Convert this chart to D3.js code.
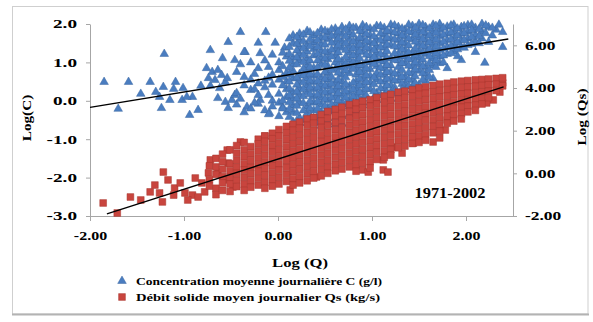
<!DOCTYPE html>
<html><head><meta charset="utf-8">
<script src="https://cdn.jsdelivr.net/npm/d3@7"></script>
<style>
html,body{margin:0;padding:0;background:#fff;}
svg{display:block;}
text{font-family:"Liberation Serif","Times New Roman",serif;font-weight:bold;fill:#000;}
</style></head><body>
<svg id="chart" width="593" height="322"></svg>
<script>
// Axis ticks
const xTicks = [-2, -1, 0, 1, 2];
const cTicks = [-3, -2, -1, 0, 1, 2];
const qsTicks = [-2, 0, 2, 4, 6];

// Daily mean concentration, isolated days: [log Q, log C]
const concSparse = [
  [-1.85,0.49],[-1.70,-0.21],[-1.59,0.49],[-1.46,0.18],[-1.36,0.49],[-1.30,0.23],[-1.21,1.22],
  [-1.22,0.36],[-1.24,-0.19],[-1.09,0.49],[-1.11,0.31],[-1.02,0.02],[-0.94,-0.37],[-0.85,-0.24],
  [-0.91,0.10],[-0.82,0.39],[-0.72,1.32],[-0.53,1.53],[-0.59,1.11],[-0.40,1.79],[-0.13,1.79],
  [-0.35,1.27],[-0.46,1.06],[-0.21,1.51],[-0.03,1.51],[0.07,1.38],[-0.19,1.24],
  [-0.76,0.85],[-0.70,0.75],[-0.64,0.80],[-0.60,0.67],[-0.74,0.59],[-0.67,0.54],[-0.56,0.49],
  [-0.72,0.39],[-0.62,0.33],[-0.54,0.59],[-0.64,0.07],[-0.56,-0.03],[-0.49,0.02],[-0.53,-0.19],
  [-0.46,0.15],[-1.26,0.10],[-1.15,0.02],[-1.01,0.33],[-0.97,0.10],[-0.33,-0.16],[-0.19,0.02],
  [-0.09,-0.32],[0.05,-0.16],[0.13,0.10]
];
// Daily mean concentration, dense part of the cloud: [log Q, log C values...]
const concColumns = [
  [-0.44, 0.75, 0.20, -0.10],
  [-0.36, 1.27, 0.62, 0.40, -0.30],
  [-0.29, 1.00, 0.55, 0.28, -0.20],
  [-0.21, 0.85, 0.45, 0.15, -0.08],
  [-0.14, 1.05, 0.52, 0.35, -0.25],
  [-0.06, 1.20, 0.68, 0.42, 0.00, -0.15],
  [0.01, 1.00, 0.80, 0.55, 0.18, -0.05, -0.40],
  [0.09, 1.15, 0.72, 0.50, 0.30, 0.10, -0.30],
  [0.16, 1.70, 1.50, 1.12, 0.95, 0.78, 0.58, 0.22, 0.05, -0.12, -0.30, -0.55],
  [0.23, 1.75, 1.58, 1.40, 1.22, 1.05, 0.70, 0.50, 0.32, 0.15, -0.05, -0.45],
  [0.31, 1.82, 1.45, 1.28, 1.10, 0.92, 0.75, 0.58, 0.40, 0.22, -0.15, -0.32, -0.58],
  [0.38, 1.70, 1.52, 1.35, 1.18, 0.85, 0.65, 0.48, 0.30, 0.12, -0.05, -0.25, -0.45],
  [0.46, 1.85, 1.65, 1.48, 1.30, 1.12, 0.95, 0.60, 0.42, 0.25, 0.08, -0.10, -0.30, -0.50, -0.65],
  [0.53, 1.78, 1.60, 1.25, 1.08, 0.90, 0.72, 0.55, 0.38, 0.20, 0.02, -0.18, -0.55],
  [0.61, 1.88, 1.70, 1.52, 1.35, 1.18, 1.00, 0.82, 0.48, 0.30, 0.12, -0.08, -0.25, -0.45, -0.62],
  [0.68, 1.92, 1.74, 1.55, 1.38, 1.03, 0.86, 0.68, 0.50, 0.33, 0.15, -0.03, -0.40, -0.60],
  [0.76, 1.95, 1.78, 1.60, 1.42, 1.25, 1.07, 0.90, 0.72, 0.38, 0.20, 0.02, -0.15, -0.35],
  [0.83, 1.90, 1.55, 1.38, 1.20, 1.02, 0.85, 0.68, 0.50, 0.32, 0.15, -0.05, -0.25],
  [0.90, 1.97, 1.80, 1.62, 1.45, 1.28, 0.92, 0.75, 0.58, 0.40, 0.22, 0.05, -0.12],
  [0.98, 1.88, 1.70, 1.52, 1.35, 1.18, 1.00, 0.82, 0.65, 0.48, 0.30, -0.05],
  [1.05, 1.95, 1.60, 1.42, 1.25, 1.08, 0.90, 0.72, 0.55, 0.20, 0.02],
  [1.13, 1.90, 1.72, 1.55, 1.38, 1.20, 1.02, 0.85, 0.68, 0.50, 0.32, 0.15],
  [1.20, 1.98, 1.80, 1.62, 1.45, 1.10, 0.92, 0.75, 0.58, 0.40, 0.22, 0.05],
  [1.28, 1.92, 1.75, 1.58, 1.40, 1.22, 1.05, 0.88, 0.70, 0.52, 0.18],
  [1.35, 1.85, 1.68, 1.50, 1.32, 1.15, 0.98, 0.62, 0.45, 0.28],
  [1.43, 1.95, 1.78, 1.60, 1.25, 1.08, 0.90, 0.72, 0.55, 0.38],
  [1.50, 2.00, 1.82, 1.65, 1.48, 1.30, 1.12, 0.95, 0.78, 0.42],
  [1.57, 1.92, 1.75, 1.58, 1.40, 1.22, 0.88, 0.70, 0.52],
  [1.65, 1.98, 1.80, 1.62, 1.45, 1.28, 1.10, 0.92, 0.58],
  [1.72, 2.00, 1.85, 1.68, 1.50, 1.32, 1.15, 0.98],
  [1.80, 1.93, 1.75, 1.58, 1.40, 1.22, 0.85],
  [1.87, 1.98, 1.80, 1.62, 1.45, 1.28],
  [1.95, 1.92, 1.75, 1.58, 1.40, 1.06],
  [2.02, 1.97, 1.80, 1.62, 1.45],
  [2.10, 1.90, 1.72, 1.55, 1.27],
  [2.17, 2.00, 1.80, 1.62],
  [2.20, 0.99],
  [2.24, 1.92, 1.53],
  [2.32, 1.85],
  [2.39, 1.79, 1.40]
];
// Daily mean concentration, dense cloud between the columns above
const concColumnsMid = [
  [-0.40, 0.95, 0.05],
  [-0.25, 0.70, 0.30, -0.05],
  [-0.10, 0.88, 0.60, 0.15, -0.35],
  [0.05, 1.25, 0.90, 0.62, 0.40, 0.00, -0.20],
  [0.12, 1.62, 1.40, 1.22, 1.04, 0.86, 0.68, 0.50, 0.32, 0.14, -0.04, -0.22, -0.42],
  [0.20, 1.66, 1.48, 1.31, 1.13, 0.95, 0.60, 0.42, 0.24, 0.06, -0.13, -0.32, -0.52],
  [0.27, 1.72, 1.55, 1.37, 1.19, 1.01, 0.83, 0.66, 0.48, 0.30, 0.12, -0.06, -0.25, -0.50],
  [0.34, 1.78, 1.60, 1.42, 1.05, 0.88, 0.70, 0.52, 0.35, 0.17, -0.01, -0.20, -0.38],
  [0.42, 1.76, 1.58, 1.40, 1.22, 1.05, 0.87, 0.69, 0.51, 0.34, 0.16, -0.02, -0.20, -0.40, -0.58],
  [0.50, 1.82, 1.64, 1.46, 1.28, 1.10, 0.93, 0.75, 0.57, 0.39, 0.22, 0.04, -0.14, -0.32],
  [0.57, 1.86, 1.69, 1.51, 1.33, 1.15, 0.80, 0.62, 0.44, 0.26, 0.08, -0.10, -0.28],
  [0.64, 1.80, 1.62, 1.44, 1.26, 1.09, 0.91, 0.73, 0.55, 0.38, 0.20, 0.02, -0.16],
  [0.72, 1.86, 1.68, 1.50, 1.32, 1.14, 0.96, 0.79, 0.61, 0.43, 0.25, 0.08, -0.10],
  [0.80, 1.90, 1.72, 1.54, 1.36, 1.18, 1.00, 0.83, 0.47, 0.29, 0.11, -0.06],
  [0.87, 1.82, 1.64, 1.46, 1.28, 1.11, 0.93, 0.75, 0.57, 0.40, 0.22, 0.04],
  [0.94, 1.92, 1.74, 1.56, 1.38, 1.20, 1.02, 0.84, 0.66, 0.49, 0.31, 0.13],
  [1.02, 1.86, 1.68, 1.50, 1.32, 1.14, 0.96, 0.61, 0.43, 0.25, 0.08],
  [1.09, 1.94, 1.76, 1.58, 1.40, 1.22, 1.04, 0.86, 0.68, 0.50, 0.33, 0.15],
  [1.16, 1.82, 1.64, 1.46, 1.29, 1.11, 0.93, 0.75, 0.57, 0.40, 0.22],
  [1.24, 1.96, 1.78, 1.60, 1.42, 1.24, 1.06, 0.71, 0.53, 0.35, 0.25],
  [1.32, 1.88, 1.70, 1.52, 1.34, 1.16, 0.98, 0.80, 0.62, 0.44, 0.30],
  [1.39, 1.98, 1.80, 1.62, 1.44, 1.26, 1.08, 0.91, 0.73, 0.55, 0.38],
  [1.46, 1.90, 1.72, 1.54, 1.36, 1.18, 1.00, 0.82, 0.64, 0.46],
  [1.54, 1.97, 1.79, 1.61, 1.43, 1.25, 1.07, 0.90, 0.72, 0.55],
  [1.61, 1.88, 1.70, 1.52, 1.34, 1.16, 0.98, 0.80, 0.62],
  [1.68, 1.95, 1.77, 1.59, 1.41, 1.23, 1.05, 0.88],
  [1.76, 1.90, 1.72, 1.54, 1.36, 1.18, 1.00],
  [1.84, 1.96, 1.78, 1.60, 1.42, 1.24],
  [1.91, 1.88, 1.70, 1.52, 1.34, 1.16],
  [1.98, 1.94, 1.76, 1.58, 1.38],
  [2.06, 1.98, 1.84, 1.66, 1.48],
  [2.14, 1.86, 1.68, 1.50],
  [2.21, 1.96, 1.76],
  [2.28, 1.90, 1.70],
  [2.35, 1.98]
];

// Daily mean sediment discharge, isolated days: [log Q, log Qs]
const qsSparse = [
  [-1.86,-1.39],[-1.71,-1.86],[-1.57,-1.11],[-1.46,-1.25],[-1.36,-0.87],[-1.22,0.06],[-1.26,-0.92],
  [-1.23,-1.34],[-1.10,-0.69],[-1.11,-1.02],[-0.99,-0.92],[-0.91,-1.02],[-0.85,-1.11],[-0.81,-0.45],
  [-0.72,0.63],[-0.74,0.02],[-0.64,0.06],[-0.54,1.09],[-0.53,0.48],[-0.54,-0.31],[-0.48,-0.64],
  [-0.40,1.47],[-0.14,1.75],[0.13,-0.78],[0.41,-0.17],[-1.31,-0.55],[-1.17,-0.31],[-1.04,-0.45],
  [-0.88,-0.22],[-0.96,-1.25],[-0.78,-0.87],[0.90,0.16],[0.96,0.06],[1.12,0.16],[1.17,0.06],
  [1.12,0.63],[1.32,0.95],[1.21,1.23],[1.44,1.42],[1.65,1.47],[1.72,1.66],[1.80,2.50],[1.78,2.03],
  [2.29,3.44],[2.22,3.30],[2.39,4.24],[2.36,3.81]
];
// Daily mean sediment discharge, dense part of the cloud: [log Q, log Qs values...]
const qsColumns = [
  [-0.73, 0.35, -0.30, -0.60],
  [-0.66, 0.70, 0.30, -0.05, -0.70, -1.00],
  [-0.59, 0.90, 0.55, 0.20, -0.15, -0.45, -0.80],
  [-0.51, 1.10, 0.45, 0.12, -0.20, -0.50, -0.85],
  [-0.44, 1.30, 0.95, 0.62, 0.30, 0.00, -0.32, -0.62],
  [-0.36, 1.45, 1.10, 0.78, 0.45, 0.15, -0.18, -0.50, -0.80],
  [-0.29, 1.25, 0.92, 0.60, 0.28, -0.02, -0.35, -0.65],
  [-0.21, 1.60, 1.38, 1.05, 0.72, 0.40, 0.10, -0.22, -0.55],
  [-0.14, 1.75, 1.50, 1.18, 0.85, 0.52, 0.22, -0.10, -0.42, -0.70],
  [-0.06, 1.88, 1.62, 1.30, 0.98, 0.65, 0.35, 0.02, -0.30, -0.60],
  [0.01, 2.05, 1.75, 1.42, 1.10, 0.78, 0.45, 0.15, -0.18, -0.50],
  [0.09, 2.20, 1.90, 1.58, 1.25, 0.92, 0.60, 0.28, -0.05, -0.38],
  [0.16, 2.30, 2.02, 1.70, 1.38, 1.05, 0.72, 0.40, 0.08, -0.25, -0.55],
  [0.23, 2.40, 2.12, 1.80, 1.48, 1.15, 0.82, 0.50, 0.18, -0.15, -0.45],
  [0.31, 2.55, 2.25, 1.92, 1.60, 1.28, 0.95, 0.62, 0.30, -0.02, -0.35],
  [0.38, 2.62, 2.35, 2.02, 1.70, 1.38, 1.05, 0.72, 0.40, 0.08, -0.22],
  [0.46, 2.75, 2.45, 2.15, 1.82, 1.50, 1.18, 0.85, 0.52, 0.20, -0.12],
  [0.53, 2.90, 2.58, 2.25, 1.92, 1.60, 1.28, 0.95, 0.62, 0.30, 0.00],
  [0.61, 3.00, 2.70, 2.38, 2.05, 1.72, 1.40, 1.08, 0.75, 0.42, 0.12],
  [0.68, 3.10, 2.80, 2.48, 2.15, 1.82, 1.50, 1.18, 0.85, 0.52, 0.20],
  [0.76, 3.22, 2.90, 2.58, 2.25, 1.92, 1.60, 1.28, 0.95, 0.62, 0.30],
  [0.83, 3.30, 3.00, 2.68, 2.35, 2.02, 1.70, 1.38, 1.05, 0.72, 0.40, 0.10],
  [0.90, 3.38, 3.08, 2.75, 2.42, 2.10, 1.78, 1.45, 1.12, 0.80, 0.48],
  [0.98, 3.45, 3.15, 2.82, 2.50, 2.18, 1.85, 1.52, 1.20, 0.88, 0.55, 0.25],
  [1.05, 3.55, 3.25, 2.92, 2.60, 2.28, 1.95, 1.62, 1.30, 0.98, 0.65],
  [1.13, 3.62, 3.32, 3.00, 2.68, 2.35, 2.02, 1.70, 1.38, 1.05, 0.75],
  [1.20, 3.70, 3.40, 3.08, 2.75, 2.42, 2.10, 1.78, 1.45, 1.12, 0.85],
  [1.28, 3.80, 3.48, 3.15, 2.82, 2.50, 2.18, 1.85, 1.52, 1.20],
  [1.35, 3.85, 3.55, 3.22, 2.90, 2.58, 2.25, 1.92, 1.60, 1.28],
  [1.43, 3.92, 3.62, 3.30, 2.98, 2.65, 2.32, 2.00, 1.68, 1.40],
  [1.50, 4.00, 3.70, 3.38, 3.05, 2.72, 2.40, 2.08, 1.75, 1.45],
  [1.57, 4.05, 3.75, 3.45, 3.12, 2.80, 2.48, 2.15, 1.82, 1.55],
  [1.65, 4.12, 3.82, 3.50, 3.18, 2.85, 2.52, 2.20, 1.90],
  [1.72, 4.18, 3.88, 3.58, 3.25, 2.92, 2.60, 2.28, 1.98],
  [1.80, 4.22, 3.92, 3.62, 3.30, 2.98, 2.68, 2.35],
  [1.87, 4.28, 3.98, 3.68, 3.35, 3.05, 2.75, 2.45],
  [1.95, 4.32, 4.02, 3.72, 3.40, 3.10, 2.80, 2.55],
  [2.02, 4.35, 4.05, 3.75, 3.45, 3.15, 2.88],
  [2.10, 4.38, 4.08, 3.78, 3.48, 3.20, 2.95],
  [2.17, 4.40, 4.12, 3.82, 3.52, 3.25],
  [2.24, 4.42, 4.15, 3.85, 3.55],
  [2.32, 4.45, 4.18, 3.88],
  [2.39, 4.48, 4.10]
];

// Fitted power-law trends (end points in log space)
const concTrend = [[-2.00, -0.17], [2.45, 1.61]];
const qsTrend = [[-1.82, -1.90], [2.40, 4.05]];

const periodLabel = "1971-2002";
const legendLabels = ["Concentration moyenne journalière C (g/l)", "Débit solide moyen journalier Qs (kg/s)"];
const axisTitles = { x: "Log (Q)", left: "Log(C)", right: "Log (Qs)" };

const concColor = "#4a7dc0", concEdge = "#3d68a3";
const qsColor = "#c8453e", qsEdge = "#a8362f";

const svg = d3.select("#chart");

// Outer frame
svg.append("rect").attr("x", 12.5).attr("y", 6.5).attr("width", 575.5).attr("height", 307.5)
  .attr("fill", "#fff").attr("stroke", "#cfcfcf");
svg.append("line").attr("x1", 12).attr("x2", 589).attr("y1", 314.5).attr("y2", 314.5)
  .attr("stroke", "#b3b3b3").attr("stroke-width", 2);

const plotLeft = 90, plotRight = 513, plotTop = 24, plotBottom = 216;
const x = d3.scaleLinear().domain([-2, 2.5]).range([plotLeft, plotRight]);
const yC = d3.scaleLinear().domain([-3, 2]).range([plotBottom, plotTop]);
const yQs = d3.scaleLinear().domain([-2, 7]).range([plotBottom, plotTop]);

// plain hyphen for negative numbers
const locale = d3.formatLocale({ decimal: ".", thousands: ",", grouping: [3], currency: ["", ""], minus: "-" });

// stretch text horizontally to the width used by the chart's typeface
function stretch(sel, k) {
  sel.each(function () {
    const w = this.getComputedTextLength();
    this.setAttribute("textLength", (w * k).toFixed(1));
    this.setAttribute("lengthAdjust", "spacingAndGlyphs");
  });
}

function styleAxis(g) {
  g.attr("font-family", null).attr("font-size", null);
  g.select(".domain").attr("stroke", "#a6a6a6");
  g.selectAll(".tick line").attr("stroke", "#a6a6a6");
  g.selectAll(".tick text").attr("font-size", 12).attr("fill", "#000");
}

const gx = svg.append("g").attr("transform", `translate(0,${plotBottom})`)
  .call(d3.axisBottom(x).tickValues(xTicks).tickFormat(locale.format(".2f")).tickSize(5).tickPadding(10).tickSizeOuter(0));
styleAxis(gx);
stretch(gx.selectAll(".tick text"), 1.33);

const gl = svg.append("g").attr("transform", `translate(${plotLeft},0)`)
  .call(d3.axisLeft(yC).tickValues(cTicks).tickFormat(locale.format(".1f")).tickSize(4).tickPadding(9).tickSizeOuter(0));
styleAxis(gl);
stretch(gl.selectAll(".tick text"), 1.6);

const gr = svg.append("g").attr("transform", `translate(${plotRight},0)`)
  .call(d3.axisRight(yQs).tickValues(qsTicks).tickFormat(locale.format(".2f")).tickSize(4).tickPadding(8).tickSizeOuter(0));
styleAxis(gr);
stretch(gr.selectAll(".tick text"), 1.45);

// Expand column data into points
const expand = cols => cols.flatMap(([q, ...vs]) => vs.map(v => [q, v]));
const concPts = concSparse.concat(expand(concColumns), expand(concColumnsMid));
const qsPts = qsSparse.concat(expand(qsColumns));

const tri = d3.symbol().type(d3.symbolTriangle).size(32);
const sq = d3.symbol().type(d3.symbolSquare).size(46);

svg.append("g").selectAll("path").data(concPts).join("path")
  .attr("d", tri)
  .attr("transform", d => `translate(${x(d[0])},${yC(d[1])})`)
  .attr("fill", concColor).attr("stroke", concEdge).attr("stroke-width", 0.5);

svg.append("g").selectAll("path").data(qsPts).join("path")
  .attr("d", sq)
  .attr("transform", d => `translate(${x(d[0])},${yQs(d[1])})`)
  .attr("fill", qsColor).attr("stroke", qsEdge).attr("stroke-width", 0.5);

// Trend lines
svg.append("path").datum(concTrend)
  .attr("d", d3.line().x(d => x(d[0])).y(d => yC(d[1])))
  .attr("stroke", "#000").attr("stroke-width", 1.4).attr("fill", "none");
svg.append("path").datum(qsTrend)
  .attr("d", d3.line().x(d => x(d[0])).y(d => yQs(d[1])))
  .attr("stroke", "#000").attr("stroke-width", 1.4).attr("fill", "none");

// Period label
const pl = svg.append("text").attr("x", 450).attr("y", 198).attr("text-anchor", "middle")
  .attr("font-size", 14).text(periodLabel);
stretch(pl, 1.17);

// Axis titles
const tx = svg.append("text").attr("x", 300).attr("y", 267).attr("text-anchor", "middle")
  .attr("font-size", 13).text(axisTitles.x);
stretch(tx, 1.28);
const tl = svg.append("text").attr("transform", "translate(31,118) rotate(-90)")
  .attr("text-anchor", "middle").attr("font-size", 13).text(axisTitles.left);
stretch(tl, 1.17);
const tr = svg.append("text").attr("transform", "translate(586,117) rotate(-90)")
  .attr("text-anchor", "middle").attr("font-size", 13).text(axisTitles.right);
stretch(tr, 1.17);

// Legend
const lg = svg.append("g");
lg.append("path").attr("d", tri).attr("transform", "translate(122,281)")
  .attr("fill", concColor).attr("stroke", concEdge).attr("stroke-width", 0.5);
lg.append("path").attr("d", sq).attr("transform", "translate(122,297)")
  .attr("fill", qsColor).attr("stroke", qsEdge).attr("stroke-width", 0.5);
const l1 = lg.append("text").attr("x", 136).attr("y", 285).attr("font-size", 11).text(legendLabels[0]);
const l2 = lg.append("text").attr("x", 136).attr("y", 301).attr("font-size", 11).text(legendLabels[1]);
l1.attr("textLength", 246).attr("lengthAdjust", "spacingAndGlyphs");
l2.attr("textLength", 244).attr("lengthAdjust", "spacingAndGlyphs");
</script>
</body></html>
